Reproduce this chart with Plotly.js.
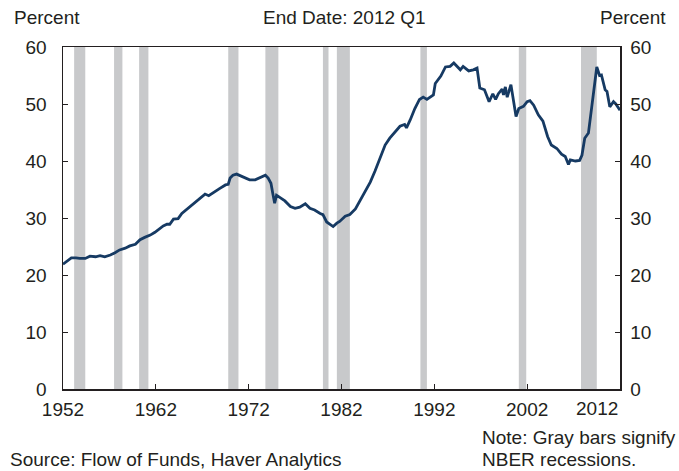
<!DOCTYPE html>
<html>
<head>
<meta charset="utf-8">
<script src="https://cdn.plot.ly/plotly-3.0.1.min.js"></script>
<style>html,body{margin:0;padding:0;background:#fff;}#chart{width:679px;height:471px;}</style>
</head>
<body>
<div id="chart"></div>
<script>
// Dates (decimal years) and values (percent)
const years = [1952.0,1952.5,1952.9,1953.4,1953.8,1954.4,1954.9,1955.5,1956.0,1956.5,1957.1,1957.6,1958.1,1958.7,1959.2,1959.8,1960.3,1960.8,1961.4,1961.9,1962.4,1962.8,1963.2,1963.5,1963.9,1964.4,1964.8,1965.5,1966.2,1966.8,1967.3,1967.7,1968.2,1968.9,1969.5,1969.8,1970.0,1970.3,1970.7,1971.1,1971.6,1972.1,1972.7,1973.2,1973.8,1974.1,1974.4,1974.6,1974.8,1975.0,1975.4,1975.9,1976.5,1977.0,1977.5,1978.1,1978.6,1979.1,1979.7,1980.0,1980.4,1980.8,1981.1,1981.5,1981.8,1982.4,1982.9,1983.5,1984.0,1984.5,1985.1,1985.6,1986.1,1986.7,1987.2,1987.8,1988.3,1988.8,1989.0,1989.4,1989.9,1990.4,1990.8,1991.2,1991.5,1991.9,1992.1,1992.7,1993.2,1993.7,1994.1,1994.5,1994.8,1995.1,1995.7,1996.2,1996.6,1996.9,1997.4,1997.9,1998.3,1998.6,1998.9,1999.3,1999.45,1999.65,1999.85,2000.25,2000.5,2000.8,2001.1,2001.6,2002.0,2002.3,2002.7,2003.2,2003.7,2004.2,2004.6,2005.2,2005.7,2006.1,2006.45,2006.65,2007.2,2007.65,2007.9,2008.2,2008.6,2008.9,2009.3,2009.5,2009.8,2010.0,2010.4,2010.6,2010.9,2011.3,2011.55,2012.0];
const values = [21.9,22.5,23.0,23.0,22.9,22.9,23.3,23.2,23.4,23.2,23.5,23.9,24.4,24.7,25.1,25.4,26.2,26.6,27.0,27.5,28.2,28.6,28.9,28.9,29.8,29.9,30.8,31.8,32.7,33.5,34.2,33.9,34.5,35.2,35.8,35.9,37.0,37.5,37.7,37.4,37.0,36.7,36.7,37.0,37.5,37.0,36.1,34.3,32.6,34.0,33.6,33.0,32.0,31.7,31.9,32.5,31.7,31.4,30.8,30.6,29.3,28.8,28.5,29.1,29.4,30.3,30.6,31.6,33.1,34.5,36.3,38.2,40.3,42.8,44.0,45.1,46.1,46.4,45.8,47.2,49.2,50.8,51.2,50.8,51.1,51.6,53.6,54.9,56.5,56.6,57.2,56.5,56.0,56.6,55.8,56.0,56.3,52.8,52.5,50.4,51.8,50.8,51.8,52.6,51.6,53.0,51.2,53.4,50.8,47.8,49.2,49.6,50.4,50.6,49.8,48.1,47.0,44.3,42.8,42.2,41.2,40.8,39.4,40.2,40.0,40.1,41.0,44.0,44.9,48.6,54.5,56.5,55.0,55.1,52.5,52.2,49.5,50.4,50.0,48.9];

// NBER recession periods (start, end)
const recessionStart = [1953.2,1957.5,1960.2,1969.8,1973.8,1980.0,1981.5,1990.5,2001.1,2007.8];
const recessionEnd   = [1954.4,1958.4,1961.2,1970.9,1975.2,1980.6,1982.9,1991.2,2001.9,2009.5];

const xTickVals = [1952,1962,1972,1982,1992,2002];
const xTickText = ['1952','1962','1972','1982','1992','2002'];
const lastTickLabel = '2012';
const yTickVals = [0,10,20,30,40,50,60];

const FONT = 'Liberation Sans, Arial, sans-serif';
const FS = 19;
const TXT = '#231f20';
const AX = '#231f20';

const shapes = recessionStart.map((s,i)=>({
  type:'rect', xref:'x', yref:'paper', x0:s, x1:recessionEnd[i], y0:0, y1:1,
  fillcolor:'#c8c9cb', line:{width:0}, layer:'below'
}));

const traces = [
  {x:years, y:values, type:'scatter', mode:'lines', line:{color:'#163a63', width:2.8}, hoverinfo:'skip', showlegend:false},
  {x:years, y:values, type:'scatter', mode:'lines', yaxis:'y2', line:{color:'rgba(0,0,0,0)', width:0}, hoverinfo:'skip', showlegend:false}
];

function ann(text,x,y,xanchor,extra){
  return Object.assign({text:text, xref:'paper', yref:'paper', x:x, y:y, xanchor:xanchor, yanchor:'middle', showarrow:false, font:{family:FONT,size:FS,color:TXT}}, extra||{});
}

const layout = {
  width:679, height:471,
  margin:{l:63, r:59, t:47, b:82},
  paper_bgcolor:'#fff', plot_bgcolor:'rgba(0,0,0,0)',
  showlegend:false,
  font:{family:FONT, size:FS, color:TXT},
  xaxis:{range:[1952,2012], tickvals:xTickVals, ticktext:xTickText, ticks:'inside', ticklen:5, tickcolor:AX, tickwidth:1,
         showline:true, linecolor:AX, linewidth:1.5, mirror:true, showgrid:false, zeroline:false, ticklabelstandoff:3,
         tickfont:{family:FONT,size:FS,color:TXT}},
  yaxis:{range:[0,60], tickvals:yTickVals, ticks:'inside', ticklen:5, tickcolor:AX, tickwidth:1,
         showline:true, linecolor:AX, linewidth:1.5, showgrid:false, zeroline:false, ticklabelstandoff:11,
         tickfont:{family:FONT,size:FS,color:TXT}},
  yaxis2:{range:[0,60], tickvals:yTickVals, overlaying:'y', side:'right', ticks:'inside', ticklen:5, tickcolor:AX, tickwidth:1,
          showline:true, linecolor:AX, linewidth:1.5, showgrid:false, zeroline:false, ticklabelstandoff:5,
          tickfont:{family:FONT,size:FS,color:TXT}},
  shapes:shapes,
  annotations:[
    ann('Percent', -0.0916, 1.085, 'left'),
    ann('End Date: 2012 Q1', 0.506, 1.085, 'center'),
    ann('Percent', 1.086, 1.085, 'right'),
    {text:lastTickLabel, xref:'x', yref:'paper', x:2012, y:0, yshift:-19, xanchor:'right', yanchor:'middle', showarrow:false, font:{family:FONT,size:FS,color:TXT}},
    ann('Note: Gray bars signify', 0.748, -0.143, 'left'),
    ann('NBER recessions.', 0.748, -0.2076, 'left'),
    ann('Source: Flow of Funds, Haver Analytics', -0.0987, -0.2076, 'left')
  ]
};

Plotly.newPlot('chart', traces, layout, {staticPlot:true, displayModeBar:false});
</script>
</body>
</html>
